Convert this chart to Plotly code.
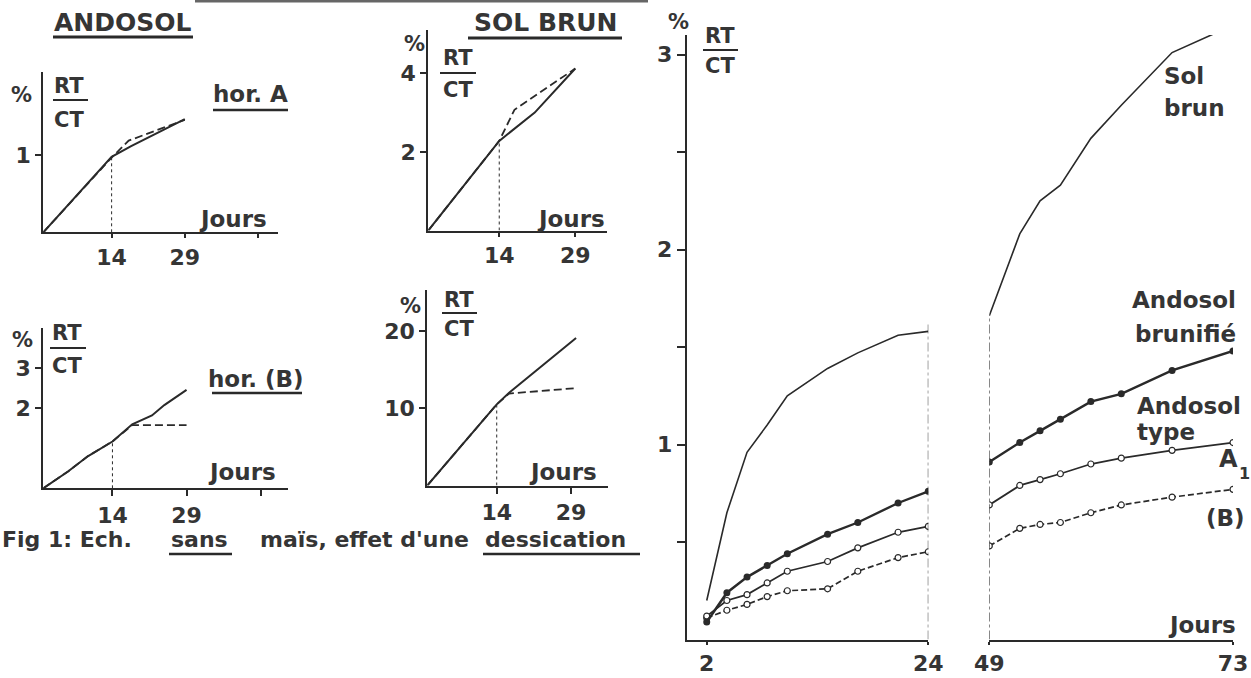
import plotly.graph_objects as go

W, H = 1251, 678
def px(x): return x / W
def py(y): return 1 - y / H

# ---------------- data ----------------
# ANDOSOL hor. A  (control solid, dessication dashed)
andoA_days_ctrl = [0, 14, 18, 29]
andoA_ctrl = [0, 0.98, 1.12, 1.47]
andoA_days_dess = [0, 14, 17.5, 29]
andoA_dess = [0, 0.97, 1.19, 1.46]

# SOL BRUN (top)
sbA_days_ctrl = [0, 14, 21, 29]
sbA_ctrl = [0, 2.28, 3.0, 4.12]
sbA_days_dess = [0, 14, 17, 29]
sbA_dess = [0, 2.28, 3.07, 4.12]

# ANDOSOL hor. (B)
andoB_days_ctrl = [0, 5, 9, 14, 18, 22, 24.5, 29]
andoB_ctrl = [0, 0.42, 0.80, 1.17, 1.60, 1.82, 2.08, 2.46]
andoB_days_dess = [0, 5, 9, 14, 18, 29]
andoB_dess = [0, 0.42, 0.80, 1.17, 1.58, 1.58]

# SOL BRUN (bottom)
sbB_days_ctrl = [0, 14, 16.5, 30]
sbB_ctrl = [0, 10.5, 12.0, 19.1]
sbB_days_dess = [0, 14, 16.5, 30]
sbB_dess = [0, 10.5, 11.9, 12.6]

# Right chart: days 2-24 and 49-73
days1 = [2, 4, 6, 8, 10, 14, 17, 21, 24]
solbrun1 = [0.20, 0.65, 0.96, 1.10, 1.25, 1.39, 1.47, 1.56, 1.58]
brunif1 = [0.09, 0.24, 0.32, 0.38, 0.44, 0.54, 0.60, 0.70, 0.76]
typeA1_1 = [0.12, 0.20, 0.23, 0.29, 0.35, 0.40, 0.47, 0.55, 0.58]
typeB_1 = [0.11, 0.15, 0.18, 0.22, 0.25, 0.26, 0.35, 0.42, 0.45]

days2 = [49, 52, 54, 56, 59, 62, 67, 73]
solbrun2 = [1.66, 2.08, 2.25, 2.33, 2.57, 2.74, 3.01, 3.15]
brunif2 = [0.91, 1.01, 1.07, 1.13, 1.22, 1.26, 1.38, 1.48]
typeA1_2 = [0.69, 0.79, 0.82, 0.85, 0.90, 0.93, 0.97, 1.01]
typeB_2 = [0.48, 0.57, 0.59, 0.60, 0.65, 0.69, 0.73, 0.77]

small_xticks = [14, 29]
# --------------------------------------

INK = "#2a2a2a"
TXT = "#353535"
FONT = "DejaVu Sans"

fig = go.Figure()

def pair(ax, xc, yc, xd, yd):
    fig.add_trace(go.Scatter(x=xc, y=yc, mode="lines", line=dict(color=INK, width=2),
                             xaxis="x" + ax, yaxis="y" + ax, hoverinfo="skip"))
    fig.add_trace(go.Scatter(x=xd, y=yd, mode="lines",
                             line=dict(color=INK, width=1.8, dash="8px,4px"),
                             xaxis="x" + ax, yaxis="y" + ax, hoverinfo="skip"))
    i = xc.index(14)
    fig.add_trace(go.Scatter(x=[14, 14], y=[0, yc[i]], mode="lines",
                             line=dict(color=INK, width=1, dash="dot"),
                             xaxis="x" + ax, yaxis="y" + ax, hoverinfo="skip"))

pair("", andoA_days_ctrl, andoA_ctrl, andoA_days_dess, andoA_dess)
pair("2", sbA_days_ctrl, sbA_ctrl, sbA_days_dess, sbA_dess)
pair("3", andoB_days_ctrl, andoB_ctrl, andoB_days_dess, andoB_dess)
pair("4", sbB_days_ctrl, sbB_ctrl, sbB_days_dess, sbB_dess)

# right chart
for ax, d, sb, br, ta, tb in [("5", days1, solbrun1, brunif1, typeA1_1, typeB_1),
                              ("6", days2, solbrun2, brunif2, typeA1_2, typeB_2)]:
    fig.add_trace(go.Scatter(x=d, y=sb, mode="lines", line=dict(color=INK, width=1.6),
                             xaxis="x" + ax, yaxis="y" + ax, hoverinfo="skip"))
    fig.add_trace(go.Scatter(x=d, y=tb, mode="lines+markers",
                             line=dict(color=INK, width=1.7, dash="6px,3px"),
                             marker=dict(symbol="circle", size=6, color="white",
                                         line=dict(color=INK, width=1.2)),
                             xaxis="x" + ax, yaxis="y" + ax, hoverinfo="skip"))
    fig.add_trace(go.Scatter(x=d, y=ta, mode="lines+markers",
                             line=dict(color=INK, width=1.8),
                             marker=dict(symbol="circle", size=6, color="white",
                                         line=dict(color=INK, width=1.2)),
                             xaxis="x" + ax, yaxis="y" + ax, hoverinfo="skip"))
    fig.add_trace(go.Scatter(x=d, y=br, mode="lines+markers",
                             line=dict(color=INK, width=2.4),
                             marker=dict(symbol="circle", size=7, color=INK),
                             xaxis="x" + ax, yaxis="y" + ax, hoverinfo="skip"))

# dash-dot separators
fig.add_trace(go.Scatter(x=[days1[-1], days1[-1]], y=[0, solbrun1[-1] + 0.05], mode="lines",
                         line=dict(color=INK, width=1, dash="dashdot"),
                         xaxis="x5", yaxis="y5", hoverinfo="skip"))
fig.add_trace(go.Scatter(x=[days2[0], days2[0]], y=[0, solbrun2[0]], mode="lines",
                         line=dict(color=INK, width=1, dash="dashdot"),
                         xaxis="x6", yaxis="y6", hoverinfo="skip"))

tickfont = dict(family=FONT, size=22, color=TXT, weight="bold")
base = dict(showline=True, linewidth=2, linecolor=INK, ticks="outside", ticklen=7,
            tickwidth=2, tickcolor=INK, showgrid=False, zeroline=False,
            tickfont=tickfont, fixedrange=True, automargin=False)

def xax(x0, x1, r, anchor, tv, tt, tl=7):
    return dict(base, domain=[px(x0), px(x1)], range=r, anchor=anchor,
                tickmode="array", tickvals=tv, ticktext=tt, ticklen=tl)

def yax(y0, y1, r, anchor, tv, tt, tl=7):
    return dict(base, domain=[py(y0), py(y1)], range=r, anchor=anchor,
                tickmode="array", tickvals=tv, ticktext=tt, ticklen=tl)

lay = {}
lay["xaxis"] = xax(43.3, 278, [0, 48.1], "y", small_xticks + [44], ["14", "29", ""], 4)
lay["yaxis"] = yax(232.3, 71.7, [0, 2.085], "x", [1], ["1"], 6)
lay["xaxis2"] = xax(428.3, 606.7, [0, 35.2], "y2", small_xticks, ["14", "29"], 4)
lay["yaxis2"] = yax(230.5, 30, [0, 5.1], "x2", [2, 4], ["2", "4"], 6)
lay["xaxis3"] = xax(43.3, 288.3, [0, 49.6], "y3", small_xticks + [44], ["14", "29", ""], 6)
lay["yaxis3"] = yax(488.3, 328.3, [0, 4.0], "x3", [2, 3], ["2", "3"], 6)
lay["xaxis4"] = xax(427.3, 608.3, [0, 36.5], "y4", small_xticks, ["14", "29"], 6)
lay["yaxis4"] = yax(485.5, 290, [0, 25.3], "x4", [10, 20], ["10", "20"], 6)
lay["xaxis5"] = xax(686.6, 928.3, [0, 24], "y5", [days1[0], days1[-1]],
                    [str(days1[0]), str(days1[-1])], 3)
lay["yaxis5"] = yax(639.5, 35, [0, 3.10], "x5", [0.5, 1, 1.5, 2, 2.5, 3],
                    ["", "1", "", "2", "", "3"], 8)
lay["xaxis6"] = xax(989.3, 1233, [49, 73], "y6", [days2[0], days2[-1]],
                    [str(days2[0]), str(days2[-1])], 3)
lay["yaxis6"] = dict(domain=[py(639.5), py(35)], range=[0, 3.10], anchor="x6",
                     visible=False, fixedrange=True, automargin=False)

annots = []
def txt(t, x, y, size=23, xa="center", ya="middle"):
    annots.append(dict(text=t, x=px(x), y=py(y), xref="paper", yref="paper",
                       xanchor=xa, yanchor=ya, showarrow=False,
                       font=dict(family=FONT, size=size, color=TXT, weight="bold")))

shapes = []
def hline(x0, x1, y, w=2.5, color=INK):
    shapes.append(dict(type="line", xref="paper", yref="paper",
                       x0=px(x0), x1=px(x1), y0=py(y), y1=py(y),
                       line=dict(color=color, width=w)))

def frac(xc, yrt, ybar, yct, x0, x1):
    txt("RT", xc, yrt, 21)
    txt("CT", xc, yct, 21)
    hline(x0, x1, ybar, 2)

# top titles
txt("ANDOSOL", 123, 22, 25)
hline(53, 193, 37, 3)
txt("SOL BRUN", 545, 22, 25)
hline(468, 622, 38, 3)
hline(195, 648, 1, 3, "#666666")

# panel A
txt("%", 21, 95, 21)
frac(69, 86, 100, 120, 53, 88)
txt("hor. A", 250, 94, 23)
hline(213, 288, 110, 2.5)
txt("Jours", 233, 219, 23)

# panel SB top
txt("%", 414, 44, 21)
frac(458, 58, 73, 90, 440, 476)
txt("Jours", 571, 219, 23)

# panel B
txt("%", 22, 340, 21)
frac(67, 333, 348, 366, 50, 86)
txt("hor. (B)", 256, 379, 23)
hline(212, 302, 393, 2.5)
txt("Jours", 242, 472, 23)

# panel SB bottom
txt("%", 410, 306, 21)
frac(459, 300, 313, 329, 442, 477)
txt("Jours", 563, 472, 23)

# caption
txt("Fig 1: Ech.", 0, 539, 22, xa="left")
txt("sans", 169, 539, 22, xa="left")
hline(169, 232, 554, 2.5)
txt("maïs, effet d'une", 258, 539, 22, xa="left")
txt("dessication", 483, 539, 22, xa="left")
hline(483, 640, 554, 2.5)

# right chart
txt("%", 678, 22, 21)
frac(720, 36, 50, 66, 703, 738)
txt("Sol", 1162, 76, 23, xa="left")
txt("brun", 1162, 108, 23, xa="left")
txt("Andosol", 1238, 300, 23, xa="right")
txt("brunifié", 1238, 334, 23, xa="right")
txt("Andosol", 1135, 406, 23, xa="left")
txt("type", 1135, 432, 23, xa="left")
txt("A", 1228, 459, 24)
txt("1", 1244, 473, 16)
txt("(B)", 1225, 518, 23)
txt("Jours", 1238, 625, 23, xa="right")

fig.update_layout(width=W, height=H, margin=dict(l=0, r=0, t=0, b=0, autoexpand=False),
                  paper_bgcolor="white", plot_bgcolor="white",
                  showlegend=False, annotations=annots, shapes=shapes, **lay)

fig.write_html("out.html")
